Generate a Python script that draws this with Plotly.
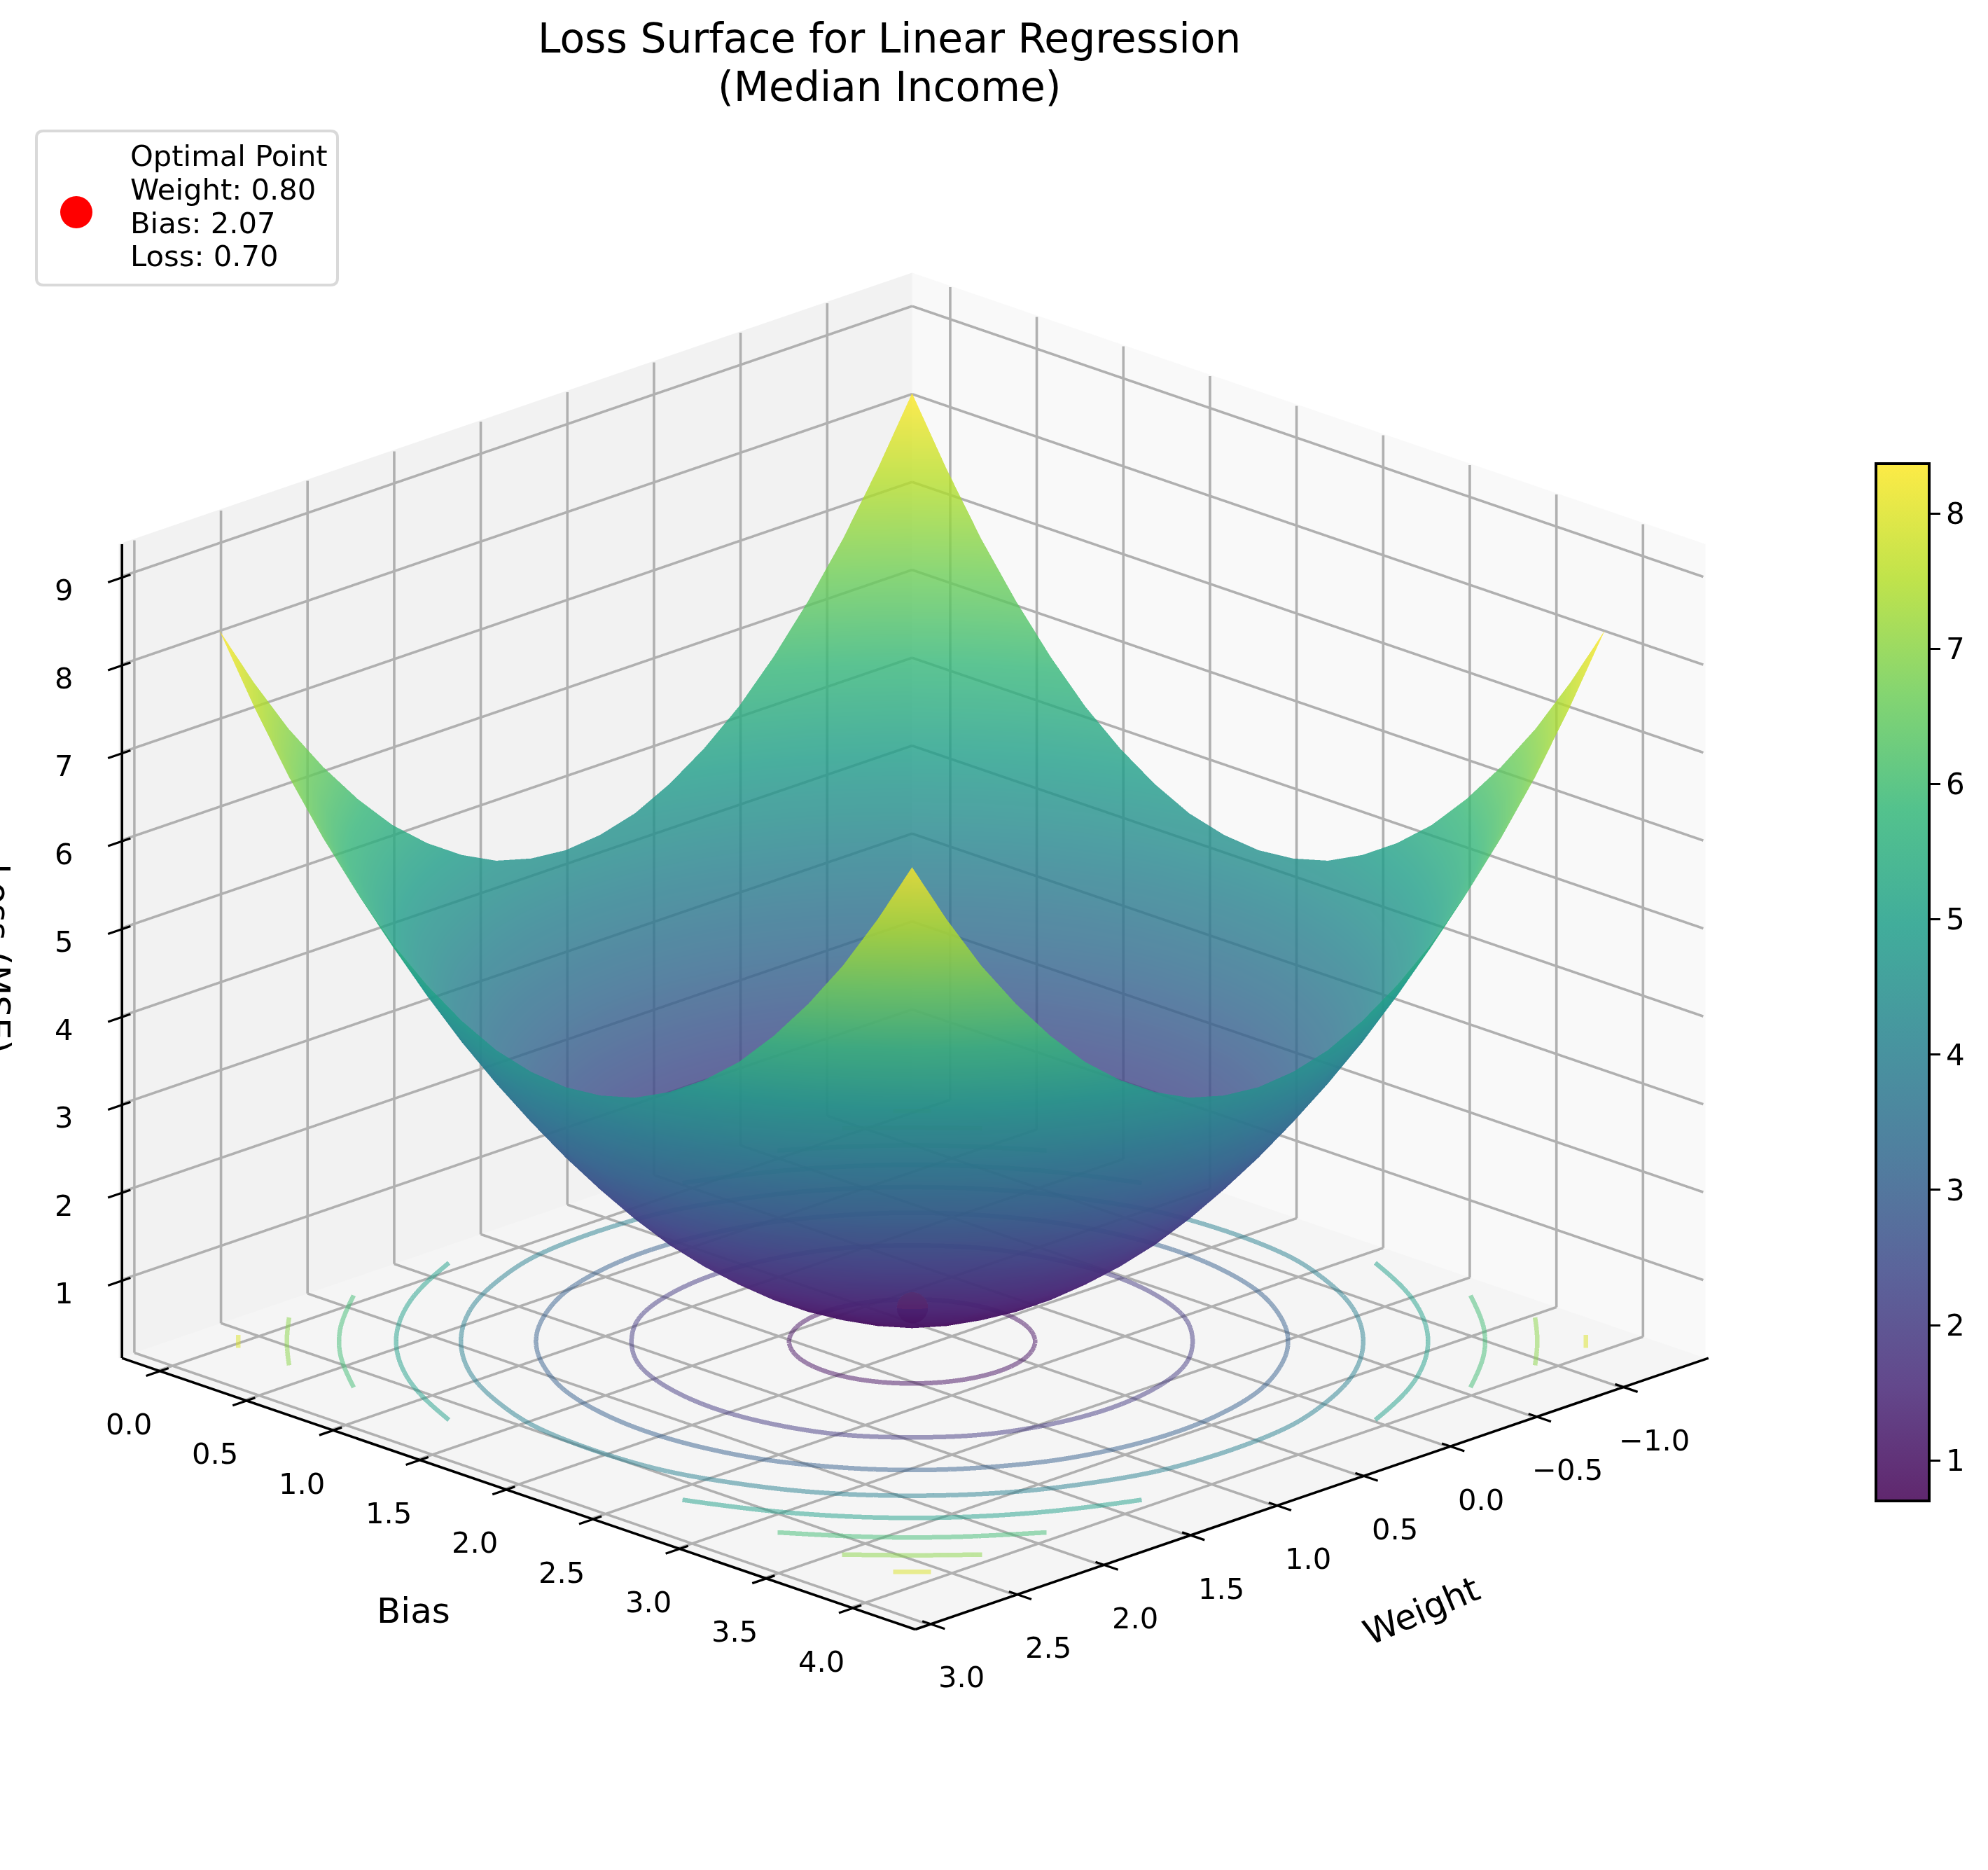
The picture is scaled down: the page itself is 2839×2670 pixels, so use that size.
import math
import plotly.graph_objects as go

FONT = "DejaVu Sans"
W, H = 2839, 2670

weights = [-1.2, -1.0, -0.8, -0.6, -0.4, -0.2, 0.0, 0.2, 0.4, 0.6, 0.8, 1.0, 1.2, 1.4, 1.6, 1.8, 2.0, 2.2, 2.4, 2.6, 2.8]
biases = [0.07, 0.27, 0.47, 0.67, 0.87, 1.07, 1.27, 1.47, 1.67, 1.87, 2.07, 2.27, 2.47, 2.67, 2.87, 3.07, 3.27, 3.47, 3.67, 3.87, 4.07]

r0 = [8.40,7.67,7.01,6.44,5.94,5.51,5.17,4.90,4.70,4.59,4.55,4.59,4.70,4.90,5.17,5.51,5.94,6.44,7.01,7.67,8.40]
r1 = [7.67,6.94,6.28,5.71,5.21,4.78,4.44,4.17,3.97,3.86,3.82,3.86,3.97,4.17,4.44,4.78,5.21,5.71,6.28,6.94,7.67]
r2 = [7.01,6.28,5.62,5.05,4.55,4.12,3.78,3.51,3.31,3.20,3.16,3.20,3.31,3.51,3.78,4.12,4.55,5.05,5.62,6.28,7.01]
r3 = [6.44,5.71,5.05,4.48,3.98,3.55,3.21,2.94,2.74,2.63,2.59,2.63,2.74,2.94,3.21,3.55,3.98,4.48,5.05,5.71,6.44]
r4 = [5.94,5.21,4.55,3.98,3.48,3.05,2.71,2.44,2.24,2.13,2.09,2.13,2.24,2.44,2.71,3.05,3.48,3.98,4.55,5.21,5.94]
r5 = [5.51,4.78,4.12,3.55,3.05,2.62,2.28,2.01,1.81,1.70,1.66,1.70,1.81,2.01,2.28,2.62,3.05,3.55,4.12,4.78,5.51]
r6 = [5.17,4.44,3.78,3.21,2.71,2.28,1.94,1.67,1.47,1.36,1.32,1.36,1.47,1.67,1.94,2.28,2.71,3.21,3.78,4.44,5.17]
r7 = [4.90,4.17,3.51,2.94,2.44,2.01,1.67,1.40,1.20,1.09,1.05,1.09,1.20,1.40,1.67,2.01,2.44,2.94,3.51,4.17,4.90]
r8 = [4.70,3.97,3.31,2.74,2.24,1.81,1.47,1.20,1.00,0.89,0.85,0.89,1.00,1.20,1.47,1.81,2.24,2.74,3.31,3.97,4.70]
r9 = [4.59,3.86,3.20,2.63,2.13,1.70,1.36,1.09,0.89,0.78,0.74,0.78,0.89,1.09,1.36,1.70,2.13,2.63,3.20,3.86,4.59]
r10 = [4.55,3.82,3.16,2.59,2.09,1.66,1.32,1.05,0.85,0.74,0.70,0.74,0.85,1.05,1.32,1.66,2.09,2.59,3.16,3.82,4.55]
loss = [r0, r1, r2, r3, r4, r5, r6, r7, r8, r9, r10, r9, r8, r7, r6, r5, r4, r3, r2, r1, r0]

contour_levels = [1, 2, 3, 4, 5, 6, 7, 8]
contour_floor = 0.31
opt_weight, opt_bias, opt_loss = 0.80, 2.07, 0.70
legend_lines = ["Optimal Point", "Weight: 0.80", "Bias: 2.07", "Loss: 0.70"]
title_lines = ["Loss Surface for Linear Regression", "(Median Income)"]

weight_ticks = [-1.0, -0.5, 0.0, 0.5, 1.0, 1.5, 2.0, 2.5, 3.0]
bias_ticks = [0.0, 0.5, 1.0, 1.5, 2.0, 2.5, 3.0, 3.5, 4.0]
loss_ticks = [1, 2, 3, 4, 5, 6, 7, 8, 9]
x_range = [-1.49, 3.09]
y_range = [-0.22, 4.36]
z_range = [0.12, 9.38]

viridis = ["#440154", "#482878", "#3e4989", "#31688e", "#26828e", "#1f9e89", "#35b779", "#6ece58", "#b5de2b", "#fde725"]

ELEV, AZIM = math.radians(20), math.radians(45)
VIEW = (math.cos(ELEV) * math.cos(AZIM), math.cos(ELEV) * math.sin(AZIM), math.sin(ELEV))
Z_ASPECT = 0.772
ZOOM = 1.31
PX_PER_UNIT = 1602.0
CX, CY = 1307.0, 1358.0
xspan = x_range[1] - x_range[0]
yspan = y_range[1] - y_range[0]
zspan = z_range[1] - z_range[0]
xmid = sum(x_range) / 2
ymid = sum(y_range) / 2
zmid = sum(z_range) / 2


def project(x, y, z):
    """Page pixel of a data point under the scene's orthographic camera."""
    nx, ny, nz = (x - xmid) / xspan, (y - ymid) / yspan, (z - zmid) / zspan * Z_ASPECT
    sx = CX + PX_PER_UNIT * (-math.sin(AZIM) * nx + math.cos(AZIM) * ny)
    up = -math.sin(ELEV) * (math.cos(AZIM) * nx + math.sin(AZIM) * ny) + math.cos(ELEV) * nz
    return sx, CY - PX_PER_UNIT * up


def scale(colors, alpha=None):
    out = []
    for i, c in enumerate(colors):
        if alpha is not None:
            r, g, b = [int(c[k:k + 2], 16) for k in (1, 3, 5)]
            r, g, b = [round(v * alpha + 255 * (1 - alpha)) for v in (r, g, b)]
            c = f"rgb({r},{g},{b})"
        out.append([i / (len(colors) - 1), c])
    return out


def level_color(level, lo=0.7, hi=8.4):
    t = (level - lo) / (hi - lo) * (len(viridis) - 1)
    i = min(int(t), len(viridis) - 2)
    f = t - i
    a = [int(viridis[i][k:k + 2], 16) for k in (1, 3, 5)]
    b = [int(viridis[i + 1][k:k + 2], 16) for k in (1, 3, 5)]
    return "rgb(%d,%d,%d)" % tuple(round(p + (q - p) * f) for p, q in zip(a, b))


def level_chains(level):
    """Marching squares through the loss table, chained and smoothed into arcs."""
    segs = []

    def cross(a, b, c, d, pa, pb):
        t = (level - a) / (b - a)
        return (round(c + (d - c) * t, 6), round(pa + (pb - pa) * t, 6))

    for i in range(len(biases) - 1):
        for j in range(len(weights) - 1):
            z00, z01 = loss[i][j], loss[i][j + 1]
            z10, z11 = loss[i + 1][j], loss[i + 1][j + 1]
            x0_, x1_, y0_, y1_ = weights[j], weights[j + 1], biases[i], biases[i + 1]
            pts = []
            if (z00 >= level) != (z01 >= level):
                pts.append(cross(z00, z01, x0_, x1_, y0_, y0_))
            if (z10 >= level) != (z11 >= level):
                pts.append(cross(z10, z11, x0_, x1_, y1_, y1_))
            if (z00 >= level) != (z10 >= level):
                pts.append(cross(z00, z10, x0_, x0_, y0_, y1_))
            if (z01 >= level) != (z11 >= level):
                pts.append(cross(z01, z11, x1_, x1_, y0_, y1_))
            if len(pts) == 2 and pts[0] != pts[1]:
                segs.append((pts[0], pts[1]))

    links = {}
    for a, b in segs:
        links.setdefault(a, []).append(b)
        links.setdefault(b, []).append(a)
    seen, chains = set(), []
    starts = [p for p, n in links.items() if len(n) == 1] + list(links)
    for s in starts:
        if s in seen:
            continue
        chain, cur = [s], s
        seen.add(s)
        while True:
            nxt = [q for q in links[cur] if q not in seen]
            if not nxt:
                break
            cur = nxt[0]
            seen.add(cur)
            chain.append(cur)
        closed = len(links[s]) == 2 and s in links[cur] and len(chain) > 2
        if closed:
            chain.append(s)
        for _ in range(2):
            n = len(chain)
            new = list(chain)
            for k in range(n):
                if closed:
                    p, q = chain[(k - 1) % (n - 1)], chain[(k + 1) % (n - 1)]
                    m = chain[k % (n - 1)]
                else:
                    if k == 0 or k == n - 1:
                        continue
                    p, q, m = chain[k - 1], chain[k + 1], chain[k]
                new[k] = (0.25 * p[0] + 0.5 * m[0] + 0.25 * q[0], 0.25 * p[1] + 0.5 * m[1] + 0.25 * q[1])
            chain = new
        for _ in range(2):
            new = [chain[0]] if not closed else []
            for p, q in zip(chain, chain[1:]):
                new.append((0.75 * p[0] + 0.25 * q[0], 0.75 * p[1] + 0.25 * q[1]))
                new.append((0.25 * p[0] + 0.75 * q[0], 0.25 * p[1] + 0.75 * q[1]))
            new.append(new[0] if closed else chain[-1])
            chain = new
        chains.append(chain)
    return chains


def level_segments(level):
    segs = []
    for chain in level_chains(level):
        for p, q in zip(chain, chain[1:]):
            segs.append(((p[0], p[1], contour_floor), (q[0], q[1], contour_floor)))
    return segs


def ribbon(segments, width_px, color, opacity=1.0, name=""):
    """A line of fixed pixel width, as a camera-facing Mesh3d strip (WebGL lines stay 1 px)."""
    xs, ys, zs, ii, jj, kk = [], [], [], [], [], []
    half = width_px / 2 / PX_PER_UNIT
    lift = 0.004
    for a, b in segments:
        dn = ((b[0] - a[0]) / xspan, (b[1] - a[1]) / yspan, (b[2] - a[2]) / zspan * Z_ASPECT)
        cx = dn[1] * VIEW[2] - dn[2] * VIEW[1]
        cy = dn[2] * VIEW[0] - dn[0] * VIEW[2]
        cz = dn[0] * VIEW[1] - dn[1] * VIEW[0]
        n = math.sqrt(cx * cx + cy * cy + cz * cz) or 1.0
        cx, cy, cz = cx / n * half, cy / n * half, cz / n * half
        base = len(xs)
        for p in (a, b):
            for sgn in (-1, 1):
                xs.append(round(p[0] + (sgn * cx + VIEW[0] * lift) * xspan, 5))
                ys.append(round(p[1] + (sgn * cy + VIEW[1] * lift) * yspan, 5))
                zs.append(round(p[2] + (sgn * cz + VIEW[2] * lift) * zspan / Z_ASPECT, 5))
        ii += [base, base + 1]
        jj += [base + 1, base + 3]
        kk += [base + 2, base + 2]
    return go.Mesh3d(
        x=xs, y=ys, z=zs, i=ii, j=jj, k=kk, color=color, opacity=opacity, flatshading=True,
        lighting=dict(ambient=1, diffuse=0, specular=0, roughness=1, fresnel=0),
        hoverinfo="skip", showscale=False, name=name,
    )


x0, x1 = x_range
y0, y1 = y_range
z0, z1 = z_range
grid = []
for v in weight_ticks:
    grid += [((v, y0, z0), (v, y1, z0)), ((v, y0, z0), (v, y0, z1))]
for v in bias_ticks:
    grid += [((x0, v, z0), (x1, v, z0)), ((x0, v, z0), (x0, v, z1))]
for v in loss_ticks:
    grid += [((x0, y0, v), (x1, y0, v)), ((x0, y0, v), (x0, y1, v))]

fig = go.Figure()
fig.add_trace(ribbon(grid, 3.6, "#b0b0b0", name="grid"))

fig.add_trace(go.Scatter3d(
    x=[opt_weight], y=[opt_bias], z=[opt_loss], mode="markers",
    marker=dict(color="#8a1040", size=26, line=dict(width=0)), showlegend=False, name="Optimal Point",
))

for lv in contour_levels:
    fig.add_trace(ribbon(level_segments(lv), 6.5, level_color(lv), opacity=0.5, name=f"Loss {lv}"))

fig.add_trace(go.Surface(
    x=weights, y=biases, z=loss, colorscale=scale(viridis), cmin=0.7, cmax=8.4,
    opacity=0.8, showscale=False,
    lighting=dict(ambient=1, diffuse=0, specular=0, roughness=1, fresnel=0),
    name="Loss surface",
))

fig.add_trace(go.Scatter3d(
    x=[opt_weight], y=[opt_bias], z=[opt_loss], mode="markers", showlegend=False, name="scale",
    marker=dict(
        size=1, opacity=0, color=[0.7], cmin=0.7, cmax=8.37, colorscale=scale(viridis, 0.85),
        colorbar=dict(
            x=2679 / W, xanchor="left", xpad=0, y=0.4747, yanchor="middle", ypad=0,
            len=0.5547, lenmode="fraction", thickness=76, thicknessmode="pixels",
            outlinecolor="black", outlinewidth=4, tick0=1, dtick=1, ticks="outside",
            ticklen=14, tickwidth=3, tickcolor="black",
            tickfont=dict(family=FONT, size=42, color="black"),
        ),
    ),
))


def axis(rng, ticks, bg):
    return dict(
        title=dict(text=""), range=rng, tickmode="array", tickvals=ticks, showticklabels=False, ticks="",
        showbackground=True, backgroundcolor=bg, showgrid=False, showline=False,
        zeroline=False, showspikes=False,
    )


def paper_line(a, b, width=3.6, color="black"):
    ax, ay = project(*a)
    bx, by = project(*b)
    return dict(type="line", xref="paper", yref="paper", layer="above",
                x0=ax / W, y0=1 - ay / H, x1=bx / W, y1=1 - by / H,
                line=dict(color=color, width=width))


TICK_IN, TICK_OUT = 0.049, 0.081
axis_shapes = [
    paper_line((x1, y0, z0), (x1, y1, z0)),
    paper_line((x0, y1, z0), (x1, y1, z0)),
    paper_line((x1, y0, z0), (x1, y0, z1)),
]
annots = []


def tick_label(text, anchor, dx, dy):
    px, py = project(*anchor)
    annots.append(dict(text=text, x=(px + dx) / W, y=1 - (py + dy) / H, xanchor="center", yanchor="middle",
                       font=dict(family=FONT, size=41.7, color="black")))


for v in bias_ticks:
    axis_shapes.append(paper_line((x1 - TICK_IN, v, z0), (x1 + TICK_OUT, v, z0), 3.2))
    tick_label(format(v, ".1f"), (x1, v, z0), -45, 76)
for v in weight_ticks:
    axis_shapes.append(paper_line((v, y1 - TICK_IN, z0), (v, y1 + TICK_OUT, z0), 3.2))
    tick_label(format(v, ".1f").replace("-", "\u2212"), (v, y1, z0), 44, 76)
for v in loss_ticks:
    axis_shapes.append(paper_line((x1 - TICK_IN, y0, v), (x1 + TICK_OUT, y0, v), 3.2))
    tick_label(format(v, "d"), (x1, y0, v), -83, 18)

c = 0.769
for text, yc in zip(legend_lines, [222, 270, 318, 366]):
    annots.append(dict(text=text, x=184 / W, y=1 - yc / H, xanchor="left", yanchor="middle",
                       font=dict(family=FONT, size=41.7, color="black")))
for text, yc in zip(title_lines, [55, 124]):
    annots.append(dict(text=text, x=0.4475, y=1 - yc / H, xanchor="center", yanchor="middle",
                       font=dict(family=FONT, size=58.3, color="black")))
for text, xc, yc, ang in [("Bias", 590, 2300, 0), ("Weight", 2030, 2300, -23), ("Loss (MSE)", -4, 1368, 90)]:
    annots.append(dict(text=text, x=xc / W, y=1 - yc / H, textangle=ang, xanchor="center", yanchor="middle",
                       font=dict(family=FONT, size=50, color="black")))
for a in annots:
    a.update(xref="paper", yref="paper", showarrow=False, align="left")

fig.update_layout(
    width=W, height=H, autosize=False, margin=dict(l=0, r=0, t=0, b=0),
    paper_bgcolor="white", showlegend=False, font=dict(family=FONT, color="black"),
    scene=dict(
        domain=dict(x=[0.0007, 0.9169], y=[0.0333, 0.9495]),
        aspectmode="manual", aspectratio=dict(x=ZOOM, y=ZOOM, z=Z_ASPECT * ZOOM),
        camera=dict(eye=dict(x=c, y=c, z=0.5147 * c), up=dict(x=0, y=0, z=1),
                    center=dict(x=0, y=0, z=0), projection=dict(type="orthographic")),
        xaxis=axis(x_range, weight_ticks, "#f9f9f9"),
        yaxis=axis(y_range, bias_ticks, "#f2f2f2"),
        zaxis=axis(z_range, loss_ticks, "#f5f5f5"),
    ),
    shapes=axis_shapes + [
        dict(type="path", xref="paper", yref="paper", layer="above",
             path=f"M {62/W} {1-187/H} L {472/W} {1-187/H} Q {482/W} {1-187/H} {482/W} {1-197/H} "
                  f"L {482/W} {1-397/H} Q {482/W} {1-407/H} {472/W} {1-407/H} L {62/W} {1-407/H} "
                  f"Q {52/W} {1-407/H} {52/W} {1-397/H} L {52/W} {1-197/H} Q {52/W} {1-187/H} {62/W} {1-187/H} Z",
             line=dict(color="#d9d9d9", width=4), fillcolor="white"),
        dict(type="circle", xref="paper", yref="paper", layer="above",
             x0=86/W, x1=132/W, y0=1-326/H, y1=1-280/H, fillcolor="red", line=dict(width=0)),
    ],
    annotations=annots,
)

fig.write_html("out.html", config={"displayModeBar": False}, post_script="document.body.style.margin='0';")
